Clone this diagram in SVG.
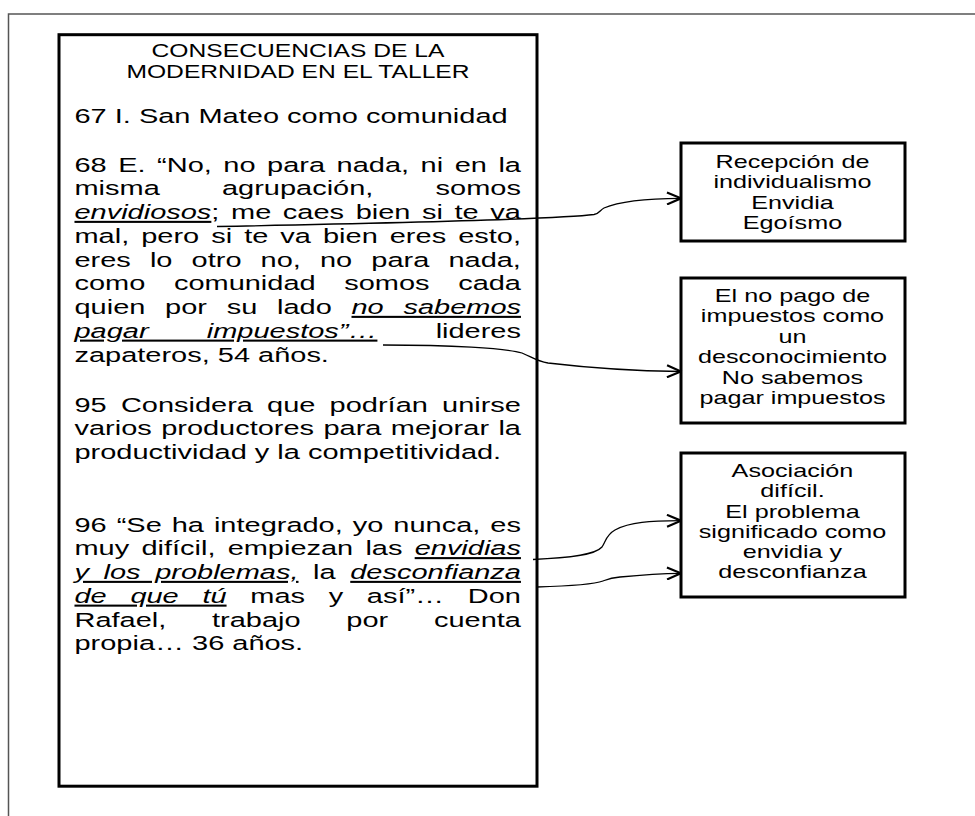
<svg xmlns="http://www.w3.org/2000/svg" width="975" height="816" viewBox="0 0 975 816">
<style>
.t{font-family:"Liberation Sans",Arial,sans-serif;fill:#000}
.b{font-size:20.7px}
.ttl{font-size:17.6px;text-anchor:middle}
.bx{font-size:18px;text-anchor:middle}
.iu{font-style:italic;text-decoration:underline}
.box{fill:#fff;stroke:#000;stroke-width:3}
.con{fill:none;stroke:#000;stroke-width:1.3}
</style>
<defs>
<marker id="arr" markerUnits="userSpaceOnUse" viewBox="0 0 17 14" markerWidth="17" markerHeight="14" refX="15.5" refY="7" orient="auto">
<path d="M1.5,1 L15.5,7 L1.5,13" fill="none" stroke="#000" stroke-width="2.2"/>
</marker>
</defs>
<rect x="0" y="0" width="975" height="816" fill="#fff"/>
<rect id="frame" x="8.5" y="14" width="1000" height="900" fill="none" stroke="#555" stroke-width="1.5"/>

<g id="main">
<rect class="box" x="59" y="34.7" width="478" height="751.5"/>
<g transform="scale(1.4 1)" class="t">
<text class="ttl" x="212.86" y="57.3">CONSECUENCIAS DE LA</text>
<text class="ttl" x="212.86" y="78.3">MODERNIDAD EN EL TALLER</text>
<text class="b" x="53.2" y="122.7">67 I. San Mateo como comunidad</text>
<text class="b" x="53.2" y="171.7" word-spacing="2.48">68 E. “No, no para nada, ni en la</text>
<text class="b" x="53.2" y="195.45" word-spacing="38.7">misma agrupación, somos</text>
<text class="b" x="53.2" y="219.2" word-spacing="2.54"><tspan class="iu">envidiosos</tspan>; me caes bien si te va</text>
<text class="b" x="53.2" y="242.95" word-spacing="2.84">mal, pero si te va bien eres esto,</text>
<text class="b" x="53.2" y="266.7" word-spacing="7.9">eres lo otro no, no para nada,</text>
<text class="b" x="53.2" y="290.45" word-spacing="14.68">como comunidad somos cada</text>
<text class="b" x="53.2" y="314.2" word-spacing="8.34">quien por su lado <tspan class="iu">no sabemos</tspan></text>
<text class="b" x="53.2" y="337.95" word-spacing="35.83"><tspan class="iu">pagar impuestos”…</tspan> lideres</text>
<text class="b" x="53.2" y="361.7">zapateros, 54 años.</text>
<text class="b" x="53.2" y="411.7" word-spacing="4.38">95 Considera que podrían unirse</text>
<text class="b" x="53.2" y="435.45" word-spacing="0.95">varios productores para mejorar la</text>
<text class="b" x="53.2" y="459.2">productividad y la competitividad.</text>
<text class="b" x="53.2" y="531.7" word-spacing="1.38">96 “Se ha integrado, yo nunca, es</text>
<text class="b" x="53.2" y="555.45" word-spacing="2.96">muy difícil, empiezan las <tspan class="iu">envidias</tspan></text>
<text class="b" x="53.2" y="579.2" word-spacing="4.68"><tspan class="iu">y los problemas,</tspan> la <tspan class="iu">desconfianza</tspan></text>
<text class="b" x="53.2" y="602.95" word-spacing="11.17"><tspan class="iu">de que tú</tspan> mas y así”… Don</text>
<text class="b" x="53.2" y="626.7" word-spacing="26.94">Rafael, trabajo por cuenta</text>
<text class="b" x="53.2" y="650.45">propia… 36 años.</text>
</g>
</g>

<g id="n1">
<rect class="box" x="681" y="143" width="224" height="98"/>
<g transform="scale(1.4 1)" class="t">
<text class="bx" x="566.07" y="168">Recepción de</text>
<text class="bx" x="566.07" y="188.5">individualismo</text>
<text class="bx" x="566.07" y="209">Envidia</text>
<text class="bx" x="566.07" y="229.5">Egoísmo</text>
</g>
</g>

<g id="n2">
<rect class="box" x="681" y="278" width="224" height="145"/>
<g transform="scale(1.4 1)" class="t">
<text class="bx" x="566.07" y="302">El no pago de</text>
<text class="bx" x="566.07" y="322.4">impuestos como</text>
<text class="bx" x="566.07" y="342.8">un</text>
<text class="bx" x="566.07" y="363.2">desconocimiento</text>
<text class="bx" x="566.07" y="383.6">No sabemos</text>
<text class="bx" x="566.07" y="404">pagar impuestos</text>
</g>
</g>

<g id="n3">
<rect class="box" x="681" y="453" width="224" height="144"/>
<g transform="scale(1.4 1)" class="t">
<text class="bx" x="566.07" y="477">Asociación</text>
<text class="bx" x="566.07" y="497.3">difícil.</text>
<text class="bx" x="566.07" y="517.6">El problema</text>
<text class="bx" x="566.07" y="537.9">significado como</text>
<text class="bx" x="566.07" y="558.2">envidia y</text>
<text class="bx" x="566.07" y="578.5">desconfianza</text>
</g>
</g>

<g id="connectors">
<path class="con" marker-end="url(#arr)" d="M217,226.5 C400,223 560,219 594,214.5 C600,213.5 600,210 604,208 C620,201 650,198.5 681,198.3"/>
<path class="con" marker-end="url(#arr)" d="M383,345 C450,345 505,348 522,353 C532,357 536,361 548,363 C590,368 640,371 681,371.5"/>
<path class="con" marker-end="url(#arr)" d="M533,559.5 C570,558 595,555 602,547 C606,541 606,535 615,530 C630,522 650,521 681,520.7"/>
<path class="con" marker-end="url(#arr)" d="M537,587 C570,586 595,584 603,581 C607,579.5 610,578 620,577 C640,575 660,573.5 681,573.3"/>
</g>
</svg>
